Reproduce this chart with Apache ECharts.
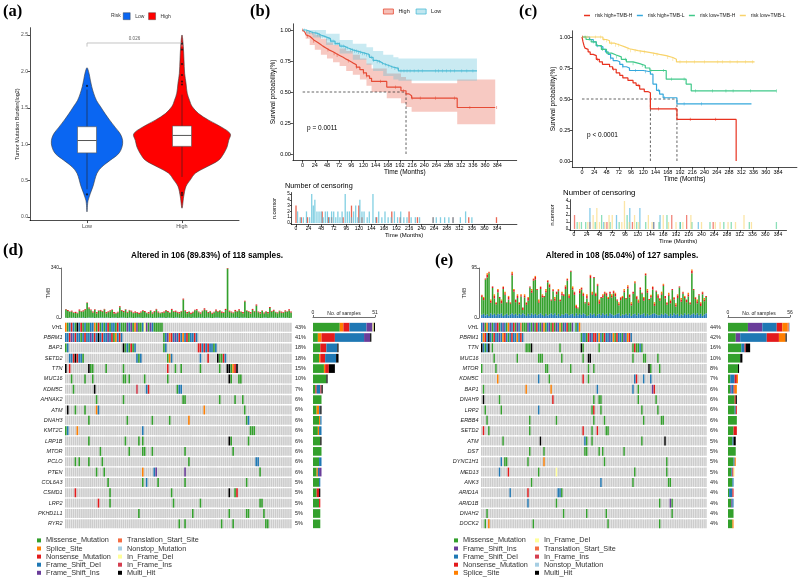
<!DOCTYPE html>
<html>
<head>
<meta charset="utf-8">
<title>Risk score, TMB and mutation landscape</title>
<script src="https://cdn.jsdelivr.net/npm/echarts@6.0.0/dist/echarts.min.js"></script>
<style>
  html, body { margin: 0; background: #fff; }
  .panel { position: absolute; left: 0; top: 0; width: 798px; height: 577px; }
</style>
</head>
<body>
<div id="pa" class="panel"></div>
<div id="pb" class="panel"></div>
<div id="pc" class="panel"></div>
<div id="pd" class="panel"></div>
<div id="pe" class="panel"></div>
<script>
const SANS = 'Liberation Sans'
const SERIF = 'Liberation Serif'

// ---------- (a) TMB by risk group ----------
const riskGroups = ['Low', 'High']
const lowDensY = [0.07, 0.23, 0.42, 0.60, 0.69, 0.78, 0.87, 0.96, 1.05, 1.14, 1.23, 1.33, 1.42, 1.52, 1.60, 1.70, 1.79, 1.88, 1.97, 2.05]
const lowDensW = [0, 0.012, 0.063, 0.105, 0.158, 0.246, 0.333, 0.368, 0.375, 0.351, 0.298, 0.239, 0.190, 0.140, 0.100, 0.070, 0.050, 0.035, 0.022, 0]
const highDensY = [0.12, 0.28, 0.42, 0.51, 0.60, 0.69, 0.78, 0.87, 0.96, 1.05, 1.14, 1.23, 1.33, 1.42, 1.52, 1.60, 1.70, 1.84, 1.97, 2.16, 2.34, 2.50]
const highDensW = [0, 0.018, 0.042, 0.088, 0.140, 0.263, 0.386, 0.439, 0.474, 0.491, 0.509, 0.421, 0.281, 0.175, 0.105, 0.080, 0.055, 0.042, 0.028, 0.021, 0.014, 0]
// whisker low, q1, median, q3, whisker high
const boxLow = [0.38, 0.88, 1.05, 1.24, 1.75]
const boxHigh = [0.55, 0.97, 1.12, 1.25, 1.68]
const outLow = [0.31, 1.80]
const outHigh = [0.30, 0.33, 1.82, 1.86, 1.95, 2.10, 2.30, 2.38]
const pValueA = '0.026'
const bracketA = 2.39
const tmbTicks = [0, 0.5, 1, 1.5, 2, 2.5]

// ---------- (b) KM by risk ----------
const kmTicks = [0, 24, 48, 72, 96, 120, 144, 168, 192, 216, 240, 264, 288, 312, 336, 360, 384]
const kmHighT = [0, 2, 4, 7, 10, 14, 18, 22, 26, 30, 35, 40, 46, 52, 60, 66, 73, 80, 86, 93, 99, 106, 113, 120, 126, 132, 136, 160, 166, 194, 204, 210, 215, 305, 380]
const kmHighS = [1, .985, .975, .96, .95, .935, .92, .91, .90, .885, .87, .855, .84, .825, .81, .795, .78, .765, .75, .735, .72, .70, .68, .655, .63, .61, .585, .585, .54, .51, .485, .47, .45, .375, .375]
const kmLowT = [0, 7, 14, 20, 28, 36, 46, 55, 64, 73, 82, 90, 99, 108, 117, 126, 132, 139, 146, 153, 159, 166, 173, 179, 189, 344]
const kmLowS = [1, .99, .98, .975, .96, .945, .93, .91, .89, .87, .855, .84, .83, .82, .81, .80, .78, .755, .745, .73, .72, .71, .70, .69, .67, .67]
const bandHighT = [0, 6, 14, 24, 36, 48, 60, 73, 86, 99, 113, 126, 136, 166, 194, 204, 215, 305, 380]
const bandHighLo = [1, .93, .88, .84, .80, .77, .74, .71, .67, .64, .60, .55, .50, .45, .41, .38, .34, .24, .24]
const bandHighUp = [1, .99, .98, .96, .93, .90, .88, .85, .83, .80, .77, .73, .69, .65, .62, .60, .57, .60, .60]
const bandLowT = [0, 7, 20, 46, 73, 99, 126, 139, 159, 179, 189, 344]
const bandLowLo = [1, .97, .94, .88, .81, .76, .72, .67, .63, .60, .59, .59]
const bandLowUp = [1, 1, 1, .97, .92, .89, .86, .83, .80, .78, .77, .77]
const censorHighT = [0, 10, 22, 50, 62, 68, 90, 106, 120, 126, 154, 183, 199, 216, 232, 262, 300, 330, 383]
const censorHighN = [3, 1, 1, 2, 1, 1, 1, 3, 3, 1, 1, 2, 1, 2, 1, 1, 1, 1, 1]
const censorLowT = [3, 8, 14, 20, 26, 30, 33, 36, 40, 44, 48, 52, 56, 60, 64, 68, 72, 76, 80, 84, 88, 94, 98, 102, 106, 110, 114, 118, 122, 126, 130, 136, 140, 147, 152, 158, 164, 170, 176, 182, 188, 194, 200, 206, 212, 220, 228, 236, 262, 268, 276, 284, 292, 300, 314, 324, 336]
const censorLowN = [2, 1, 1, 2, 1, 5, 3, 4, 2, 2, 2, 1, 2, 2, 1, 2, 2, 1, 2, 1, 2, 5, 2, 2, 1, 2, 3, 1, 4, 2, 2, 1, 2, 5, 1, 2, 1, 2, 1, 1, 2, 1, 2, 1, 1, 1, 1, 1, 1, 1, 1, 1, 1, 1, 1, 2, 1]
const medianB = [204]

// ---------- (c) KM by risk + TMB ----------
const groupsC = ['risk high+TMB-H', 'risk high+TMB-L', 'risk low+TMB-H', 'risk low+TMB-L']
const kmRhT = [0, 2, 4, 6, 8, 12, 16, 22, 28, 34, 40, 54, 60, 67, 74, 80, 90, 100, 106, 113, 122, 129, 134, 186, 302]
const kmRhS = [1, .96, .93, .91, .90, .88, .86, .85, .82, .80, .78, .76, .74, .71, .69, .67, .65, .63, .61, .58, .56, .55, .42, .335, 0]
const kmRlT = [0, 5, 15, 22, 28, 35, 41, 46, 51, 56, 61, 68, 74, 80, 87, 93, 120, 134, 139, 146, 152, 159, 186, 332]
const kmRlS = [1, 1, .98, .96, .93, .92, .90, .88, .86, .83, .81, .80, .78, .76, .75, .73, .72, .70, .62, .57, .54, .51, .46, .46]
const kmLhT = [0, 8, 18, 28, 38, 48, 58, 67, 77, 87, 100, 113, 124, 133, 165, 204, 214, 381]
const kmLhS = [1, .98, .96, .93, .90, .87, .855, .84, .82, .80, .785, .77, .75, .73, .66, .62, .565, .565]
const kmLlT = [0, 41, 48, 54, 64, 74, 84, 93, 110, 126, 140, 152, 165, 178, 185, 338]
const kmLlS = [1, .98, .97, .95, .935, .92, .905, .89, .88, .87, .86, .85, .835, .82, .80, .80]
const censorRhT = [1, 30, 62, 110, 150, 184, 212, 262]
const censorRhN = [2, 1, 1, 1, 1, 2, 2, 1]
const censorRlT = [30, 56, 80, 105, 124, 150, 162, 200, 234]
const censorRlN = [3, 1, 2, 3, 3, 1, 2, 1, 1]
const censorLhT = [6, 14, 22, 40, 52, 68, 85, 100, 118, 135, 160, 175, 200, 222, 256, 282, 296, 330, 381]
const censorLhN = [1, 1, 1, 1, 2, 1, 1, 2, 1, 1, 1, 2, 1, 1, 1, 1, 1, 1, 1]
const censorLlT = [10, 26, 36, 43, 48, 58, 66, 72, 90, 95, 104, 114, 122, 140, 147, 168, 178, 192, 205, 220, 240, 266, 275, 290, 304, 320, 334]
const censorLlN = [1, 1, 2, 3, 1, 1, 2, 2, 1, 4, 1, 2, 1, 2, 1, 2, 1, 1, 1, 2, 1, 1, 1, 1, 1, 2, 1]
const medianC = [134, 186]

// ---------- (d) oncoplot, high-risk cohort ----------
const genesD = ['VHL', 'PBRM1', 'BAP1', 'SETD2', 'TTN', 'MUC16', 'KDM5C', 'AHNAK2', 'ATM', 'DNAH3', 'KMT2C', 'LRP1B', 'MTOR', 'PCLO', 'PTEN', 'COL6A3', 'CSMD1', 'LRP2', 'PKHD1L1', 'RYR2']
const pctD = ['43%', '41%', '18%', '18%', '15%', '10%', '7%', '6%', '6%', '6%', '6%', '6%', '6%', '6%', '6%', '5%', '5%', '5%', '5%', '5%']
// "start:codes" runs of consecutive samples
const mutD = [
  '0:SMDNDMXDNMDMMDDSMNMDMDNMDDMNDM 30:MMIDIMSIMMDFIMIDMMMMM',
  '0:DDNIDNDDMDNDDIDNDXDNDDIDNMSDND 51:MDISNDIDNDSDNMDDND',
  '0:MD 30:XMDMNMD 51:MD 69:NNDNDNDDMD',
  '2:DDNXNDDM 37:DMD 53:MSD 70:D 74:N 79:XMMND',
  '0:X 2:N 12:XMM 21:M 30:M 53:N 57:M 60:M 70:M 80:M 84:XXMSNX',
  '3:M 10:M 14:M 30:MM 33:M 41:M 53:M 85:XM 90:MM',
  '4:M 15:X 37:J 42:DN 58:MDD',
  '16:M 30:M 61:MM 80:M 88:M 92:M',
  '1:X 5:M 10:M 16:SD 72:S 93:M',
  '12:M 32:M 45:M 54:M 64:S 94:MD',
  '0:MD 6:S 40:D 96:MMM',
  '12:M 31:M 38:M 40:M 85:XM 95:M',
  '18:M 33:M 40:MM 45:M 62:M 87:M',
  '5:M 7:M 12:M 19:M 64:M 99:DD',
  '16:M 20:M 40:S 46:DI 62:I 101:M',
  '22:M 40:M 42:D 48:M 62:M 94:M',
  '5:N 23:M 55:M 85:X 88:MN',
  '17:N 23:M 56:M 70:M 101:MM',
  '38:M 66:M 85:M 94:MM 103:M',
  '59:M 62:M 81:M 87:M 104:MM'
]
const tmbD = [62, 55, 45, 50, 38, 42, 36, 58, 48, 52,
  60, 105, 72, 58, 44, 60, 40, 52, 55, 48,
  62, 40, 45, 52, 58, 40, 36, 42, 80, 54,
  48, 60, 42, 55, 50, 38, 45, 40, 35, 44,
  52, 48, 36, 40, 52, 38, 48, 62, 44, 36,
  40, 45, 55, 48, 38, 62, 46, 50, 42, 40,
  48, 132, 52, 40, 44, 36, 42, 56, 60, 44,
  38, 50, 66, 54, 40, 48, 36, 42, 58, 46,
  52, 44, 40, 62, 340, 50, 44, 38, 55, 48,
  60, 44, 40, 118, 52, 46, 40, 62, 48, 92,
  44, 40, 52, 38, 46, 40, 74, 48, 56, 42,
  38, 50, 44, 40, 52, 46, 60, 44]
const tmbNonD = '5736485947638574936548573964758364759486573948657439684758694758396475849365748639584765947486359748593748657364857396'.split('').map(Number)
const tmbFsD = '2031402315024130214313204130243104201342023140213524031204313021403214140231024321304023150324103241201340231403241302'.split('').map(Number)
const samplesD = 118

// ---------- (e) oncoplot, low-risk cohort ----------
const genesE = ['VHL', 'PBRM1', 'TTN', 'MUC16', 'MTOR', 'KDM5C', 'BAP1', 'DNAH9', 'LRP2', 'ERBB4', 'SETD2', 'ATM', 'DST', 'DYNC1H1', 'MED13', 'ANK3', 'ARID1A', 'ARID1B', 'DNAH2', 'DOCK2']
const pctE = ['44%', '42%', '16%', '10%', '8%', '7%', '6%', '6%', '6%', '6%', '6%', '5%', '5%', '5%', '5%', '4%', '4%', '4%', '4%', '4%']
const mutE = [
  '0:DIMSDIMDINMDIDMSIDNMIDTM 24:MMIDMIMNDMISMDIMNMIDSMIDNMMIOMDS',
  '0:DSNDXDMNDDIDSNDMDNDDSDND 56:MDDMNIDNNDSDMNDDIDSMNDDMIDSND',
  '0:XDMDX 6:M 25:MMMX 44:M 56:XM 66:M 85:MNMMD 90:M',
  '7:M 20:M 32:MMM 45:M 57:M 60:XX 85:M 91:MM 99:M',
  '0:M 8:M 36:MM 50:M 60:M 63:M 94:XM 100:M',
  '9:S 32:D 38:M 57:N 60:M 86:DN 91:D 95:D',
  '1:M 25:S 39:S 65:D 85:D 88:M 96:IN',
  '1:X 10:M 40:N 63:M 66:MM 88:M 98:M',
  '2:M 11:M 32:D 62:MN 67:M 90:M 99:M',
  '3:M 27:M 42:M 63:M 69:M 91:M 101:MM',
  '1:N 4:M 27:M 57:N 62:M 65:N 70:MM',
  '12:M 33:X 58:DM 62:M 90:M 103:X',
  '27:M 35:M 58:MM 66:M 68:M 80:M',
  '11:D 13:MM 26:M 35:S 69:M 104:M',
  '10:D 15:N 32:M 42:F 86:M 104:M',
  '28:M 67:D 85:M 105:MM',
  '16:D 26:N 43:DDM',
  '26:D 42:M 100:M 106:IM',
  '3:M 46:M 59:M 70:M 107:M',
  '2:M 4:S 29:M 71:M 100:M'
]
const tmbE = [44, 40, 75, 85, 88, 35, 60, 45, 30, 55,
  40, 35, 60, 50, 30, 42, 30, 88, 55, 35,
  45, 30, 45, 20, 45, 30, 40, 60, 55, 75,
  80, 55, 35, 60, 45, 42, 55, 72, 65, 35,
  55, 40, 50, 55, 35, 50, 45, 62, 75, 45,
  90, 60, 50, 25, 20, 55, 58, 48, 30, 45,
  30, 82, 50, 78, 48, 65, 35, 40, 45, 50,
  48, 40, 50, 45, 52, 48, 35, 30, 40, 42,
  55, 38, 62, 45, 30, 50, 70, 42, 35, 58,
  48, 40, 85, 55, 36, 44, 60, 30, 52, 45,
  38, 50, 65, 42, 30, 48, 35, 55, 40, 28,
  45, 60, 38, 50, 42, 35, 48, 30, 92, 55,
  40, 35, 45, 30, 50, 38, 42]
const tmbFsE = '6857496858794685796858697485968579648579695847698578495869745968478596849756894768594785967948568975586974859684759685796958479'.split('').map(Number)
const tmbNonE = '3425243534254315243543253452435234423352345224353423542534254532435243524345235232453425342534235425432543524352432543523425432'.split('').map(Number)
const tmbSpE = '1203120312021302132031203120312031203120130213021303120312032130213021120312031230213021300213021302132013201320312031201302130'.split('').map(Number)
const samplesE = 127

// ---------- helpers ----------
function vAxis(o) {
  const c = o.lineColor || '#000'
  return {
    type: 'value', gridIndex: o.grid || 0, min: o.min, max: o.max,
    position: o.position, offset: o.offset || 0,
    axisLine: { show: true, onZero: false, lineStyle: { color: c, width: 0.7 } },
    axisTick: { show: true, customValues: o.ticks, length: o.tickLen || 2.5, lineStyle: { color: c, width: 0.7 } },
    axisLabel: { show: true, customValues: o.ticks, formatter: o.fmt, fontSize: o.fs || 5.5, color: o.color || '#000', margin: o.margin == null ? 2 : o.margin, fontFamily: SANS },
    splitLine: { show: false },
    name: o.name, nameLocation: 'middle', nameGap: o.nameGap, nameMoveOverlap: false,
    nameTextStyle: { fontSize: o.nameFs || 6.5, color: o.nameColor || '#000', fontFamily: SANS }
  }
}

function survAt(ts, ss, t) {
  let v = ss[0]
  for (let i = 0; i < ts.length; i++) if (ts[i] <= t) v = ss[i]
  return v
}

function stepPts(ts, vs) {
  const p = []
  ts.forEach((t, i) => { if (i > 0) p.push([t, vs[i - 1]]); p.push([t, vs[i]]) })
  return p
}

function bandSeries(ts, lo, up, fill) {
  return {
    type: 'custom', xAxisIndex: 0, yAxisIndex: 0, silent: true, z: 1,
    data: [[0, 0]],
    renderItem(params, api) {
      const pts = stepPts(ts, up).concat(stepPts(ts, lo).reverse()).map(p => api.coord(p))
      return { type: 'polygon', shape: { points: pts }, style: { fill } }
    }
  }
}

function kmLine(name, ts, ss, color) {
  return {
    type: 'line', name, step: 'end', symbol: 'none', xAxisIndex: 0, yAxisIndex: 0, z: 3,
    lineStyle: { color, width: 1.2 }, itemStyle: { color },
    data: ts.map((t, i) => [t, ss[i]])
  }
}

function censorMarks(ts, ss, cens, color) {
  return {
    type: 'scatter', xAxisIndex: 0, yAxisIndex: 0, symbol: 'rect', symbolSize: [0.6, 3.2], z: 4,
    itemStyle: { color }, data: cens.map(t => [t, survAt(ts, ss, t)])
  }
}

function medianLines(meds) {
  const hi = Math.max(...meds)
  const segs = [[[0, 0.5], [hi, 0.5]]].concat(meds.map(m => [[m, 0], [m, 0.5]]))
  return segs.map(d => ({
    type: 'line', data: d, symbol: 'none', xAxisIndex: 0, yAxisIndex: 0, z: 2,
    lineStyle: { type: [2.5, 2], color: '#222', width: 0.7 }
  }))
}

function censorBars(name, ts, ns, color, opacity) {
  return {
    type: 'bar', name, xAxisIndex: 1, yAxisIndex: 1, barWidth: 1.3, barGap: '-100%',
    itemStyle: { color, opacity }, data: ts.map((t, i) => [t, ns[i]])
  }
}

function txt(x, y, text, fs, extra) {
  return {
    type: 'text', x, y, silent: true,
    style: Object.assign({ text, fontSize: fs, fontFamily: SANS, fill: '#000', align: 'left', verticalAlign: 'top' }, extra || {})
  }
}

// ---------- (a) ----------
function violinSeries(name, pos, ys, hws, color) {
  return {
    type: 'custom', name, itemStyle: { color }, data: [[pos, 1]],
    renderItem(params, api) {
      const pts = []
      ys.forEach((y, i) => pts.push(api.coord([pos + hws[i], y])))
      for (let i = ys.length - 2; i > 0; i--) pts.push(api.coord([pos - hws[i], ys[i]]))
      return { type: 'polygon', shape: { points: pts, smooth: 0.35 }, style: { fill: color, stroke: '#3a3a3a', lineWidth: 0.6 } }
    }
  }
}

const boxSeries = {
  type: 'custom', z: 3, data: [[1].concat(boxLow), [2].concat(boxHigh)],
  renderItem(params, api) {
    const x = api.value(0), hw = 0.1
    const lo = api.coord([x, api.value(1)]), hi = api.coord([x, api.value(5)])
    const tl = api.coord([x - hw, api.value(4)]), br = api.coord([x + hw, api.value(2)])
    const m1 = api.coord([x - hw, api.value(3)]), m2 = api.coord([x + hw, api.value(3)])
    return {
      type: 'group', children: [
        { type: 'line', shape: { x1: lo[0], y1: lo[1], x2: hi[0], y2: hi[1] }, style: { stroke: '#222', lineWidth: 0.6 } },
        { type: 'rect', shape: { x: tl[0], y: tl[1], width: br[0] - tl[0], height: br[1] - tl[1] }, style: { fill: '#fff', stroke: '#555', lineWidth: 0.6 } },
        { type: 'line', shape: { x1: m1[0], y1: m1[1], x2: m2[0], y2: m2[1] }, style: { stroke: '#555', lineWidth: 1 } }
      ]
    }
  }
}

const optA = {
  animation: false,
  textStyle: { fontFamily: SANS },
  grid: { left: 30, top: 27.7, width: 209, height: 192.9 },
  legend: {
    left: 123, top: 12.5, padding: 0, icon: 'rect', itemWidth: 7, itemHeight: 7, itemGap: 4,
    data: riskGroups, textStyle: { fontSize: 5, color: '#333' },
    itemStyle: { borderColor: '#333', borderWidth: 0.4 }
  },
  xAxis: vAxis({ min: 0.4, max: 2.6, ticks: [1, 2], fmt: v => riskGroups[Math.round(v) - 1], fs: 5.5, color: '#4d4d4d', margin: 3 }),
  yAxis: vAxis({ min: -0.05, max: 2.6, ticks: tmbTicks, fmt: v => v.toFixed(1), fs: 5, color: '#4d4d4d', name: 'Tumor Mutation Burden(log2)', nameGap: 10, nameFs: 5.5, nameColor: '#222' }),
  graphic: [
    txt(3, 3, '(a)', 16.5, { fontFamily: SERIF, fontWeight: 'bold' }),
    txt(250, 3, '(b)', 16.5, { fontFamily: SERIF, fontWeight: 'bold' }),
    txt(519, 3, '(c)', 16.5, { fontFamily: SERIF, fontWeight: 'bold' }),
    txt(3, 242, '(d)', 16.5, { fontFamily: SERIF, fontWeight: 'bold' }),
    txt(435, 252, '(e)', 16.5, { fontFamily: SERIF, fontWeight: 'bold' }),
    txt(111, 13.5, 'Risk', 5, { fill: '#333' })
  ],
  series: [
    violinSeries('Low', 1, lowDensY, lowDensW, '#0A66F2'),
    violinSeries('High', 2, highDensY, highDensW, '#FF0000'),
    boxSeries,
    {
      type: 'scatter', symbolSize: 2.2, itemStyle: { color: '#111' }, z: 4,
      data: outLow.map(v => [1, v]).concat(outHigh.map(v => [2, v]))
    },
    {
      type: 'line', symbol: 'none', lineStyle: { color: '#b5b5b5', width: 0.8 },
      data: [[1, bracketA - 0.05], [1, bracketA], [2, bracketA], [2, bracketA - 0.05]]
    },
    {
      type: 'scatter', symbolSize: 0, data: [[1.5, bracketA]],
      label: { show: true, position: 'top', distance: 1.5, formatter: pValueA, fontSize: 4.5, color: '#333' }
    }
  ]
}

// ---------- (b) ----------
const colHigh = '#E64B35', colLow = '#4DBBD5'
const optB = {
  animation: false,
  textStyle: { fontFamily: SANS },
  grid: [
    { left: 292.9, top: 23.8, width: 223.8, height: 136.4 },
    { left: 291.3, top: 192.55, width: 225.6, height: 31.9 }
  ],
  legend: {
    left: 383, top: 8.5, padding: 0, icon: 'rect', itemWidth: 10, itemHeight: 5, itemGap: 6,
    textStyle: { fontSize: 5.5, color: '#222' },
    data: [
      { name: 'High', itemStyle: { color: 'rgba(230,75,53,0.35)', borderColor: colHigh, borderWidth: 0.8 } },
      { name: 'Low', itemStyle: { color: 'rgba(77,187,213,0.35)', borderColor: colLow, borderWidth: 0.8 } }
    ]
  },
  xAxis: [
    vAxis({ min: -19.2, max: 422.4, ticks: kmTicks, fs: 5.5, name: 'Time (Months)', nameGap: 9, nameFs: 6.5 }),
    vAxis({ grid: 1, min: -9, max: 422, ticks: kmTicks, fs: 5, name: 'Time (Months)', nameGap: 8, nameFs: 6 })
  ],
  yAxis: [
    vAxis({ min: -0.05, max: 1.05, ticks: [0, 0.25, 0.5, 0.75, 1], fmt: v => v.toFixed(2), fs: 5.5, name: 'Survival probability(%)', nameGap: 16, nameFs: 6.5 }),
    vAxis({ grid: 1, min: -0.25, max: 5.25, ticks: [0, 1, 2, 3, 4, 5], fs: 4.5, name: 'n.censor', nameGap: 14, nameFs: 5.5, tickLen: 1.5, margin: 1.5 })
  ],
  graphic: [
    txt(307, 125, 'p = 0.0011', 6.5),
    txt(285, 182, 'Number of censoring', 7.3)
  ],
  series: [
    bandSeries(bandHighT, bandHighLo, bandHighUp, 'rgba(230,75,53,0.3)'),
    bandSeries(bandLowT, bandLowLo, bandLowUp, 'rgba(77,187,213,0.3)'),
    kmLine('High', kmHighT, kmHighS, colHigh),
    kmLine('Low', kmLowT, kmLowS, colLow),
    censorMarks(kmHighT, kmHighS, censorHighT, colHigh),
    censorMarks(kmLowT, kmLowS, censorLowT, colLow),
    ...medianLines(medianB),
    censorBars('High', censorHighT, censorHighN, colHigh, 0.85),
    censorBars('Low', censorLowT, censorLowN, colLow, 0.7)
  ]
}

// ---------- (c) ----------
const colorsC = ['#E8321F', '#35A8DC', '#40C98A', '#F8D36A']
const kmC = [[kmRhT, kmRhS], [kmRlT, kmRlS], [kmLhT, kmLhS], [kmLlT, kmLlS]]
const censC = [[censorRhT, censorRhN], [censorRlT, censorRlN], [censorLhT, censorLhN], [censorLlT, censorLlN]]
const optC = {
  animation: false,
  textStyle: { fontFamily: SANS },
  grid: [
    { left: 572.3, top: 30.8, width: 224.6, height: 136.4 },
    { left: 569.75, top: 199.6, width: 216.75, height: 30.8 }
  ],
  legend: {
    left: 584, top: 13, padding: 0, icon: 'rect', itemWidth: 6, itemHeight: 1.5, itemGap: 4.5,
    textStyle: { fontSize: 5, color: '#222' }, data: groupsC
  },
  xAxis: [
    vAxis({ min: -19, max: 421, ticks: kmTicks, fs: 5.5, name: 'Time (Months)', nameGap: 9, nameFs: 6.5 }),
    vAxis({ grid: 1, min: -8, max: 400, ticks: kmTicks, fs: 5, name: 'Time (Months)', nameGap: 8, nameFs: 6 })
  ],
  yAxis: [
    vAxis({ min: -0.05, max: 1.05, ticks: [0, 0.25, 0.5, 0.75, 1], fmt: v => v.toFixed(2), fs: 5.5, name: 'Survival probability(%)', nameGap: 16, nameFs: 6.5 }),
    vAxis({ grid: 1, min: -0.2, max: 4.2, ticks: [0, 1, 2, 3, 4], fs: 4.5, name: 'n.censor', nameGap: 14, nameFs: 5.5, tickLen: 1.5, margin: 1.5 })
  ],
  graphic: [
    txt(587, 132, 'p < 0.0001', 6.5),
    txt(563, 189, 'Number of censoring', 7.8)
  ],
  series: [
    ...kmC.map((k, i) => kmLine(groupsC[i], k[0], k[1], colorsC[i])),
    ...kmC.map((k, i) => censorMarks(k[0], k[1], censC[i][0], colorsC[i])),
    ...medianLines(medianC),
    ...censC.map((c, i) => censorBars(groupsC[i], c[0], c[1], colorsC[i], 0.6))
  ]
}

// ---------- (d) / (e) oncoplots ----------
const TYPE_NAME = { M: 'Missense_Mutation', S: 'Splice_Site', N: 'Nonsense_Mutation', D: 'Frame_Shift_Del', I: 'Frame_Shift_Ins', T: 'Translation_Start_Site', O: 'Nonstop_Mutation', F: 'In_Frame_Del', J: 'In_Frame_Ins', X: 'Multi_Hit' }
const TYPE_COLOR = { M: '#33A02C', S: '#FF7F00', N: '#E31A1C', D: '#1F78B4', I: '#6A3D9A', T: '#F46D43', O: '#A6CEE3', F: '#FFFF99', J: '#D53E4F', X: '#000000' }

function parseMut(str) {
  const out = []
  str.trim().split(/\s+/).forEach(tok => {
    const [s, codes] = tok.split(':')
    for (let k = 0; k < codes.length; k++) out.push([+s + k, codes[k]])
  })
  return out
}

function cellRender(params, api) {
  const p = api.coord([api.value(0), api.value(1)])
  const sz = api.size([1, 1])
  return {
    type: 'rect',
    shape: { x: p[0], y: p[1] - sz[1] * 0.43, width: Math.max(sz[0] - 0.35, 0.4), height: sz[1] * 0.86 },
    style: { fill: api.visual('color') }
  }
}

function oncoOption(o) {
  const nG = o.genes.length
  const cells = []
  for (let g = 0; g < nG; g++) for (let s = 0; s < o.n; s++) cells.push([s, g])
  const byType = {}, counts = {}
  o.order.forEach(c => { byType[c] = []; counts[c] = new Array(nG).fill(0) })
  o.muts.forEach((str, g) => parseMut(str).forEach(([s, c]) => { byType[c].push([s, g]); counts[c][g]++ }))
  const samples = Array.from({ length: o.n }, (_, i) => i)
  const series = []
  o.tmbParts.forEach(part => series.push({
    type: 'bar', name: TYPE_NAME[part.code], stack: 'tmb', xAxisIndex: 0, yAxisIndex: 0,
    barCategoryGap: '14%', itemStyle: { color: TYPE_COLOR[part.code] }, data: part.vals
  }))
  series.push({ type: 'custom', xAxisIndex: 1, yAxisIndex: 1, silent: true, itemStyle: { color: '#CCCCCC' }, renderItem: cellRender, data: cells })
  o.order.forEach(c => series.push({
    type: 'custom', name: TYPE_NAME[c], xAxisIndex: 1, yAxisIndex: 1, z: 3,
    itemStyle: { color: TYPE_COLOR[c] }, renderItem: cellRender, data: byType[c]
  }))
  o.order.forEach(c => series.push({
    type: 'bar', name: TYPE_NAME[c], stack: 'genes', xAxisIndex: 2, yAxisIndex: 3,
    barCategoryGap: '16%', itemStyle: { color: TYPE_COLOR[c] }, data: counts[c]
  }))
  const legendBase = {
    orient: 'vertical', top: 536.5, padding: 0, icon: 'rect', itemWidth: 4, itemHeight: 4, itemGap: 0.3,
    textStyle: { fontSize: 7.3, lineHeight: 7.8, color: '#333' }
  }
  return {
    animation: false,
    textStyle: { fontFamily: SANS },
    grid: [
      { left: o.left, width: o.width, top: 268, height: 50 },
      { left: o.left, width: o.width, top: 322, height: 207 },
      { left: o.barLeft, width: 62, top: 322, height: 207 }
    ],
    legend: [
      Object.assign({ left: o.legendX[0], data: o.order.slice(0, 5).map(c => TYPE_NAME[c]) }, legendBase),
      Object.assign({ left: o.legendX[1], data: o.order.slice(5).map(c => TYPE_NAME[c]) }, legendBase)
    ],
    graphic: [txt(o.titleX, 252, o.title, 8.2, { fontWeight: 'bold', align: 'center' })],
    xAxis: [
      { gridIndex: 0, type: 'category', data: samples, show: false },
      { gridIndex: 1, type: 'value', min: 0, max: o.n, show: false },
      vAxis({ grid: 2, min: 0, max: o.barMax, ticks: [0, o.barMax], fs: 5, color: '#222', position: 'top', offset: 5, tickLen: 2, name: 'No. of samples', nameGap: 1, nameFs: 5, nameColor: '#222', lineColor: '#333' })
    ],
    yAxis: [
      vAxis({ grid: 0, min: 0, max: o.tmbMax, ticks: [0, o.tmbMax], fs: 5, color: '#222', offset: o.tmbOffset, tickLen: 2, name: 'TMB', nameGap: o.tmbNameGap, nameFs: 5, nameColor: '#222', lineColor: '#333' }),
      {
        gridIndex: 1, type: 'category', data: o.genes, inverse: true,
        axisLine: { show: false }, axisTick: { show: false },
        axisLabel: { fontSize: 5.5, fontStyle: 'italic', color: '#222', margin: 2.5, fontFamily: SANS }
      },
      {
        gridIndex: 1, type: 'category', data: o.pct, inverse: true, position: 'right',
        axisLine: { show: false }, axisTick: { show: false },
        axisLabel: { fontSize: 5.5, color: '#222', margin: 3, fontFamily: SANS }
      },
      { gridIndex: 2, type: 'category', data: o.genes, inverse: true, show: false }
    ],
    series
  }
}

const optD = oncoOption({
  genes: genesD, pct: pctD, muts: mutD, n: samplesD,
  order: ['M', 'S', 'N', 'D', 'I', 'T', 'O', 'F', 'J', 'X'],
  tmbParts: [
    { code: 'D', vals: tmbFsD },
    { code: 'M', vals: tmbD.map((v, i) => v - tmbFsD[i] - tmbNonD[i]) },
    { code: 'N', vals: tmbNonD }
  ],
  tmbMax: 340, tmbOffset: 4, tmbNameGap: 10, barMax: 51,
  left: 65, width: 227, barLeft: 313,
  legendX: [37, 118], titleX: 207,
  title: 'Altered in 106 (89.83%) of 118 samples.'
})

const optE = oncoOption({
  genes: genesE, pct: pctE, muts: mutE, n: samplesE,
  order: ['M', 'I', 'D', 'N', 'S', 'F', 'T', 'J', 'O', 'X'],
  tmbParts: [
    { code: 'D', vals: tmbFsE },
    { code: 'M', vals: tmbE.map((v, i) => v - tmbFsE[i] - tmbNonE[i] - tmbSpE[i]) },
    { code: 'N', vals: tmbNonE },
    { code: 'S', vals: tmbSpE }
  ],
  tmbMax: 95, tmbOffset: 2, tmbNameGap: 12, barMax: 56,
  left: 481, width: 226, barLeft: 728,
  legendX: [454, 535], titleX: 622,
  title: 'Altered in 108 (85.04%) of 127 samples.'
})

const opts = { pa: optA, pb: optB, pc: optC, pd: optD, pe: optE }
Object.keys(opts).forEach(id => {
  const chart = echarts.init(document.getElementById(id))
  chart.setOption(opts[id])
})
</script>
</body>
</html>
